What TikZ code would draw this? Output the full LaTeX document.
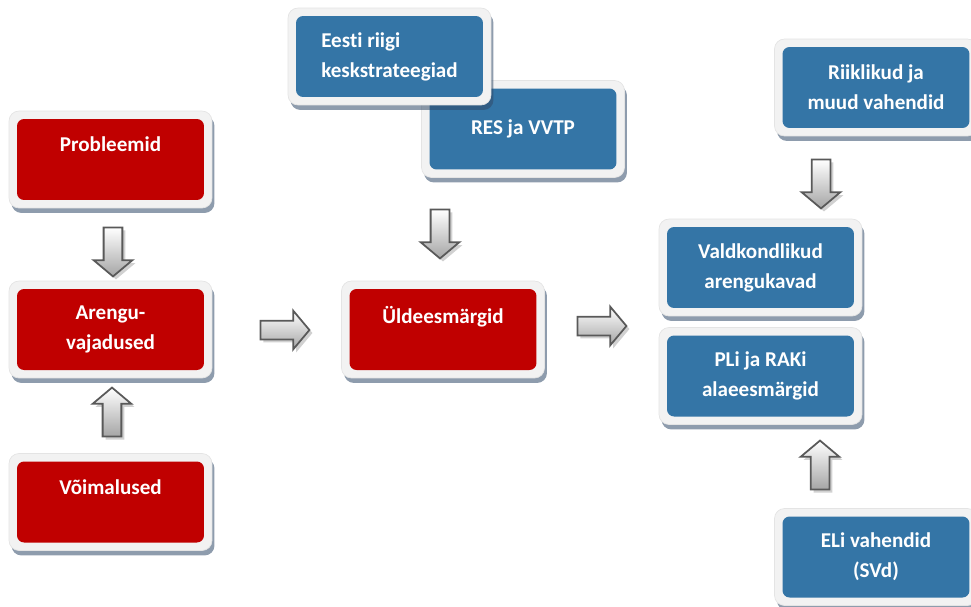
\documentclass[tikz,border=0pt]{standalone}
\usepackage{fontspec}
\setmainfont{Carlito}[Ligatures=NoCommon]
\usetikzlibrary{shapes.arrows,shadows}
\definecolor{planRed}{RGB}{192,0,0}
\definecolor{planBlue}{RGB}{52,117,166}
\definecolor{planFrame}{RGB}{242,242,242}
\definecolor{planFrameEdge}{RGB}{228,228,228}
\definecolor{planShadow}{RGB}{50,75,105}
\definecolor{arrowEdge}{RGB}{89,89,89}
\definecolor{arrowGray}{RGB}{165,165,165}

\begin{document}
\begin{tikzpicture}[x=0.02cm, y=-0.02cm,
    goalbox/.style={draw=planFrameEdge, line width=0.4pt, fill=planFrame, rounded corners=0.2cm,
      minimum width=4.06cm, minimum height=1.94cm, text=white, align=center,
      font=\fontsize{12}{17}\selectfont\bfseries,
      drop shadow={shadow xshift=0.05cm, shadow yshift=-0.1cm, fill=planShadow, opacity=0.55},
      path picture={\fill[#1, rounded corners=0.14cm]
        ([shift={(0.16cm,0.16cm)}]path picture bounding box.south west) rectangle
        ([shift={(-0.16cm,-0.16cm)}]path picture bounding box.north east);}},
    blockarrow/.style={single arrow, draw=arrowEdge, line width=1pt, top color=white, bottom color=arrowGray,
      minimum height=0.98cm, inner sep=0.17cm, single arrow head extend=0.2cm, single arrow tip angle=100,
      drop shadow={shadow xshift=0.06cm, shadow yshift=-0.06cm, fill=black!30, opacity=0.6}}]
  \useasboundingbox (0,0) rectangle (971,606);

  % Left column
  \node[goalbox=planRed] (probl) at (110.5,159.5) {Probleemid\\~};
  \node[goalbox=planRed] (arengu) at (110.5,329.5) {Arengu-\\vajadused};
  \node[goalbox=planRed] (voimal) at (110.5,502) {Võimalused\\~};

  % Middle column
  \node[goalbox=planBlue] (res) at (523,129) {RES ja VVTP};
  \node[goalbox=planBlue, align=left] (eesti) at (389.5,56.5) {Eesti riigi\\keskstrateegiad};
  \node[goalbox=planRed] (ulde) at (443,329.5) {Üldeesmärgid\\~};

  % Right column
  \node[goalbox=planBlue] (riik) at (876,87.5) {Riiklikud ja\\muud vahendid};
  \node[goalbox=planBlue] (vald) at (760.5,267.5) {Valdkondlikud\\arengukavad};
  \node[goalbox=planBlue] (pli) at (760.5,376) {PLi ja RAKi\\alaeesmärgid};
  \node[goalbox=planBlue] (eli) at (876,557) {ELi vahendid\\(SVd)};

  % Block arrows
  \node[blockarrow, shape border rotate=270] (down1) at (113,248) {};
  \node[blockarrow, shape border rotate=90] (up1) at (112,416) {};
  \node[blockarrow] (right1) at (281,330) {};
  \node[blockarrow, shape border rotate=270] (down2) at (440,230) {};
  \node[blockarrow] (right2) at (598,326) {};
  \node[blockarrow, shape border rotate=270] (down3) at (821,180) {};
  \node[blockarrow, shape border rotate=90] (up2) at (820,469) {};
\end{tikzpicture}
\end{document}
